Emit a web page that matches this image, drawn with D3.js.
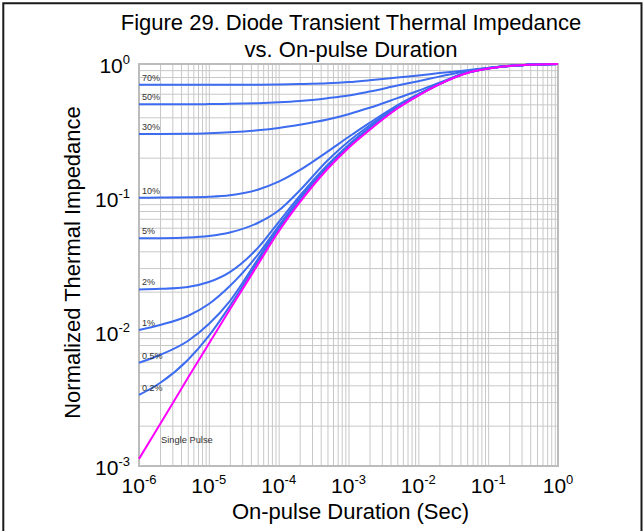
<!DOCTYPE html>
<html>
<head>
<meta charset="utf-8">
<script src="https://cdn.jsdelivr.net/npm/d3@7"></script>
<style>
  html, body { margin: 0; padding: 0; background: #fff; }
  svg { display: block; font-family: "Liberation Sans", Arial, sans-serif; }
</style>
</head>
<body>
<svg id="chart" width="643" height="531"></svg>
<script>
// On-pulse durations (s) at which each curve is sampled
const durations = [1e-6, 2e-6, 5e-6, 1e-5, 2e-5, 5e-5, 1e-4, 2e-4, 5e-4, 1e-3,
                   2e-3, 5e-3, 1e-2, 2e-2, 5e-2, 1e-1, 2e-1, 5e-1, 1];

// Normalized thermal impedance per duty cycle
const duty70 = [0.700, 0.700, 0.700, 0.700, 0.700, 0.701, 0.703, 0.708, 0.718, 0.733,
                0.756, 0.793, 0.822, 0.855, 0.899, 0.935, 0.970, 0.993, 1];
const duty50 = [0.500, 0.500, 0.501, 0.502, 0.504, 0.510, 0.518, 0.530, 0.556, 0.582,
                0.623, 0.690, 0.744, 0.805, 0.887, 0.934, 0.969, 0.992, 1];
const duty30 = [0.300, 0.300, 0.301, 0.304, 0.309, 0.320, 0.333, 0.352, 0.385, 0.422,
                0.471, 0.556, 0.631, 0.724, 0.867, 0.932, 0.968, 0.992, 1];
const duty10 = [0.1005, 0.1007, 0.1012, 0.1021, 0.1048, 0.1153, 0.1323, 0.1612, 0.2216, 0.2853,
                0.3635, 0.4918, 0.5962, 0.7141, 0.8626, 0.9288, 0.9671, 0.9923, 1];
const duty5 = [0.0500, 0.0501, 0.0507, 0.0521, 0.0553, 0.0651, 0.0807, 0.1138, 0.1905, 0.2640,
               0.3476, 0.4834, 0.5921, 0.7116, 0.8611, 0.9280, 0.9667, 0.9923, 1];
const duty2 = [0.0208, 0.0210, 0.0217, 0.0236, 0.0280, 0.0423, 0.0662, 0.1035, 0.1763, 0.2490,
               0.3353, 0.4776, 0.5890, 0.7098, 0.8604, 0.9272, 0.9662, 0.9923, 1];
const duty1 = [0.01035, 0.01128, 0.01317, 0.01618, 0.02204, 0.03755, 0.0618, 0.0991, 0.1721, 0.2444,
               0.3307, 0.4736, 0.5870, 0.7086, 0.8597, 0.9264, 0.9662, 0.9923, 1];
const duty05 = [0.00590, 0.00674, 0.00857, 0.01147, 0.01703, 0.03476, 0.06024, 0.09712, 0.1695, 0.2419,
                0.3278, 0.4711, 0.5855, 0.7079, 0.8589, 0.9256, 0.9659, 0.9923, 1];
const duty02 = [0.00339, 0.00416, 0.00618, 0.00934, 0.01563, 0.0333, 0.0587, 0.0955, 0.1675, 0.2398,
                0.3256, 0.4687, 0.5840, 0.7068, 0.8582, 0.9248, 0.9657, 0.9923, 1];
const singlePulse = [0.00113, 0.00205, 0.00453, 0.00818, 0.0147, 0.0317, 0.0562, 0.0926, 0.1646, 0.2365,
                     0.3217, 0.4655, 0.5819, 0.7057, 0.8567, 0.9240, 0.9654, 0.9914, 1];

const dutyLabels = ["70%", "50%", "30%", "10%", "5%", "2%", "1%", "0.5%", "0.2%"];
const dutySeries = [duty70, duty50, duty30, duty10, duty5, duty2, duty1, duty05, duty02];
const singlePulseLabel = "Single Pulse";

// Axis tick exponents (labels are 10^n)
const xTickExponents = [-6, -5, -4, -3, -2, -1, 0];
const yTickExponents = [0, -1, -2, -3];

const titleLines = ["Figure 29. Diode Transient Thermal Impedance", "vs. On-pulse Duration"];
const xTitle = "On-pulse Duration (Sec)";
const yTitle = "Normalized Thermal Impedance";

// ---- layout ----
const plot = { left: 139, right: 558, top: 64, bottom: 466 };
const blue = "#3d6cf0";
const magenta = "#ff00ff";

const x = d3.scaleLog().domain([1e-6, 1]).range([plot.left, plot.right]);
const y = d3.scaleLog().domain([1e-3, 1]).range([plot.bottom, plot.top]);

const svg = d3.select("#chart");

// page frame (left, top, right)
svg.append("path")
  .attr("d", "M3.3,531 V3.3 H641.5 V531")
  .attr("fill", "none")
  .attr("stroke", "#1a1a1a")
  .attr("stroke-width", 2);

// grid: every 1..9 x 10^n line on both axes
const gridColor = "#c8c8c8";
svg.append("g")
  .attr("transform", `translate(0,${plot.bottom})`)
  .call(d3.axisBottom(x).tickValues(x.ticks()).tickSize(-(plot.bottom - plot.top)).tickFormat(""))
  .call(g => g.select(".domain").remove())
  .call(g => g.selectAll("line").attr("stroke", gridColor).attr("stroke-width", 1));

svg.append("g")
  .attr("transform", `translate(${plot.left},0)`)
  .call(d3.axisLeft(y).tickValues(y.ticks()).tickSize(-(plot.right - plot.left)).tickFormat(""))
  .call(g => g.select(".domain").remove())
  .call(g => g.selectAll("line").attr("stroke", gridColor).attr("stroke-width", 1));

// plot frame
svg.append("rect")
  .attr("x", plot.left).attr("y", plot.top)
  .attr("width", plot.right - plot.left).attr("height", plot.bottom - plot.top)
  .attr("fill", "none").attr("stroke", "#bcbcbc").attr("stroke-width", 2);

// curves
const line = d3.line()
  .x((d, i) => x(durations[i]))
  .y(d => y(d))
  .curve(d3.curveMonotoneX);

const curves = svg.append("g").attr("fill", "none").attr("stroke-linejoin", "round");
curves.selectAll("path.duty")
  .data(dutySeries)
  .join("path")
  .attr("class", "duty")
  .attr("d", line)
  .attr("stroke", blue)
  .attr("stroke-width", 2);

curves.append("path")
  .attr("d", line(singlePulse))
  .attr("stroke", magenta)
  .attr("stroke-width", 2);

// duty-cycle labels at the left end of each curve
svg.append("g")
  .selectAll("text")
  .data(dutySeries)
  .join("text")
  .attr("x", plot.left + 3)
  .attr("y", d => y(d[0]) - 4)
  .attr("font-size", 9)
  .attr("fill", "#333")
  .text((d, i) => dutyLabels[i]);

svg.append("text")
  .attr("x", x(durations[1]) + 1)
  .attr("y", plot.bottom - 23)
  .attr("font-size", 9.3)
  .attr("fill", "#333")
  .text(singlePulseLabel);

// power-of-ten tick labels
function powerLabel(sel) {
  sel.append("tspan").attr("font-size", 21).text("10");
  sel.append("tspan").attr("font-size", 13).attr("dy", -9).text(d => String(d));
}

svg.append("g")
  .selectAll("text")
  .data(xTickExponents)
  .join("text")
  .attr("x", d => x(Math.pow(10, d)))
  .attr("y", plot.bottom + 27)
  .attr("text-anchor", "middle")
  .attr("fill", "#000")
  .call(powerLabel);

svg.append("g")
  .selectAll("text")
  .data(yTickExponents)
  .join("text")
  .attr("x", plot.left - 9)
  .attr("y", d => y(Math.pow(10, d)) + 8.5)
  .attr("text-anchor", "end")
  .attr("fill", "#000")
  .call(powerLabel);

// titles
svg.append("g")
  .selectAll("text")
  .data(titleLines)
  .join("text")
  .attr("x", 351)
  .attr("y", (d, i) => 30 + i * 27)
  .attr("text-anchor", "middle")
  .attr("font-size", 22)
  .attr("fill", "#000")
  .text(d => d);

svg.append("text")
  .attr("x", 350.5)
  .attr("y", 519)
  .attr("text-anchor", "middle")
  .attr("font-size", 22)
  .attr("fill", "#000")
  .text(xTitle);

svg.append("text")
  .attr("transform", "translate(80,262.5) rotate(-90)")
  .attr("text-anchor", "middle")
  .attr("font-size", 22)
  .attr("fill", "#000")
  .text(yTitle);
</script>
</body>
</html>
